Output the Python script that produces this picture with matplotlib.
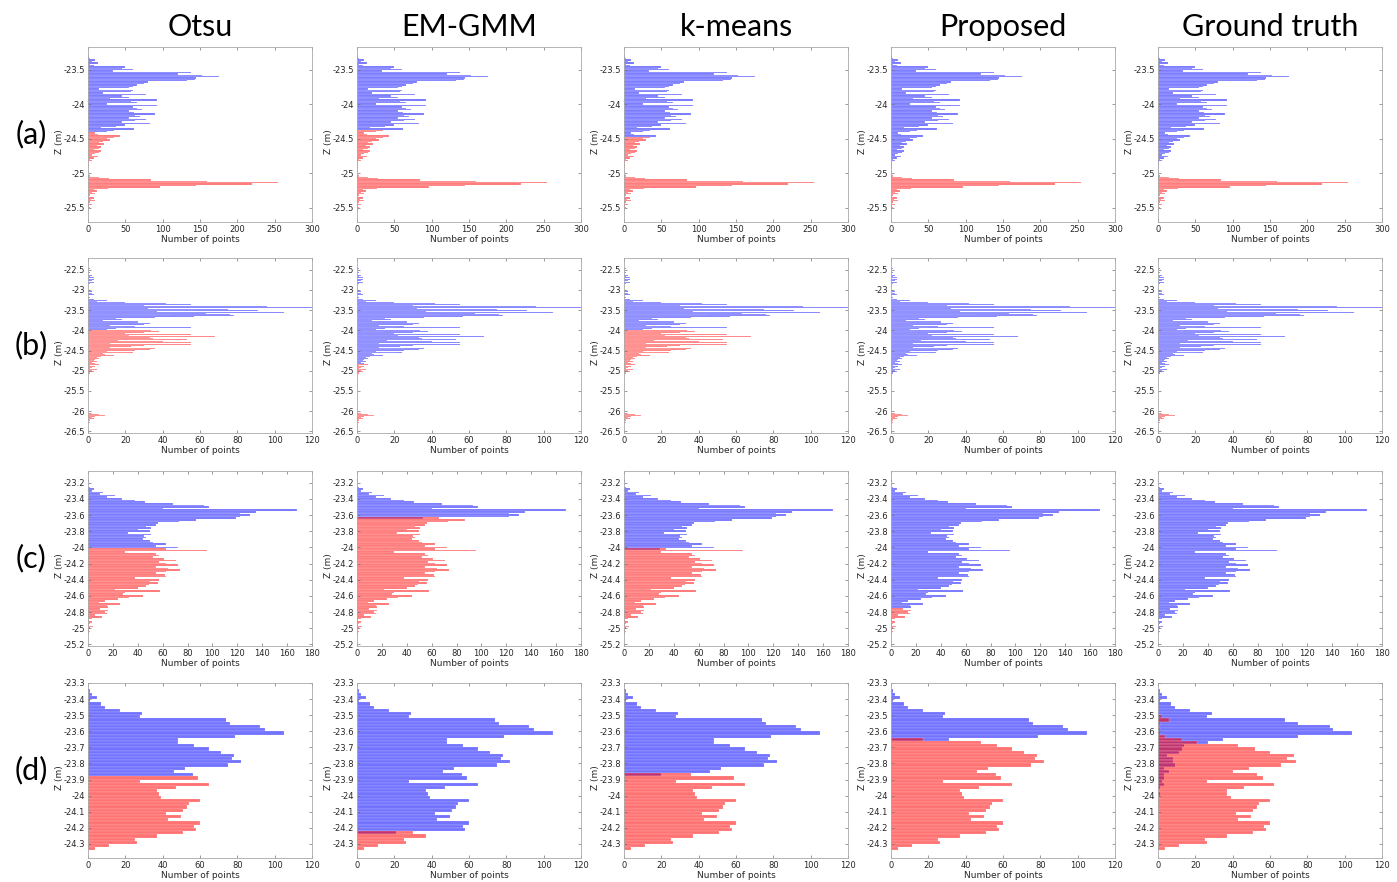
import numpy as np
import matplotlib.pyplot as plt
from matplotlib.ticker import FuncFormatter

# ── Datos ───────────────────────────────────────────────────────────────────
methods = ["Otsu", "EM-GMM", "k-means", "Proposed", "Ground truth"]
row_tags = ["(a)", "(b)", "(c)", "(d)"]
bin_w = 0.02

# fila (a): conteos por bin, desde z = a_top hacia abajo
a_top = -23.30
a_counts = [1, 2, 3, 10, 5, 14, 3, 8, 50, 45,
            60, 33, 138, 120, 153, 175, 145, 143, 132, 80,
            75, 65, 60, 55, 15, 60, 58, 20, 78, 46,
            55, 30, 92, 57, 65, 25, 93, 60, 65, 72,
            55, 62, 90, 63, 70, 55, 78, 63, 45, 83,
            50, 38, 18, 62, 35, 25, 10, 13, 43, 35,
            25, 30, 20, 15, 22, 12, 17, 15, 8, 18,
            15, 10, 5, 13, 8, 3, 5, 2, 0, 1,
            0, 2, 0, 0, 1, 0, 1, 3, 15, 28,
            85, 160, 255, 220, 145, 97, 27, 8, 12, 5,
            10, 3, 2, 8, 4, 9, 3, 1, 6, 2,
            3, 1, 1]
a_cuts = [-24.41, -24.37, -24.47, -25.03, -25.03]
a_mixed = [0, 0, 0, 0, 0]
a_xticks = [0, 50, 100, 150, 200, 250, 300]
a_yticks = [-25.5, -25, -24.5, -24, -23.5]
a_ylim = (-25.71, -23.17)

# fila (b)
b_top = -22.46
b_sparse = [1, 0, 0, 0, 0, 1, 0, 0, 0, 2,
            1, 5, 3, 0, 3, 2, 0, 0, 3, 1,
            0, 2, 0, 0, 0, 0, 0, 5, 1, 2,
            0, 2, 0, 3, 0, 0, 1, 0, 0]
b_upper = [3, 10, 5, 12, 20, 42, 55, 30, 85, 96,
           120, 32, 75, 91, 59, 37, 105, 63, 76, 45,
           78, 57, 36, 15, 20, 18, 8, 27, 27, 10,
           33, 30, 12, 25, 55, 20, 15, 10]
b_lower = [34, 38, 14, 30, 20, 55, 22, 37, 68, 33,
           35, 53, 38, 16, 40, 55, 12, 33, 55, 30,
           23, 12, 36, 26, 33, 25, 10, 24, 21, 8,
           9, 14, 7, 8, 5, 6, 4, 3, 7, 5,
           2, 4, 6, 1, 3, 4, 2, 1, 5, 4,
           2, 3, 1, 1]
b_gap = [0] * 49
b_bottom = [2, 6, 9, 10, 4, 2, 3, 1, 2, 1, 0, 1]
b_counts = b_sparse + b_upper + b_lower + b_gap + b_bottom
b_cuts = [-23.99, -24.83, -23.99, -25.50, -25.50]
b_mixed = [0, 0, 0, 0, 0]
b_xticks = [0, 20, 40, 60, 80, 100, 120]
b_yticks = [-26.5, -26, -25.5, -25, -24.5, -24, -23.5, -23, -22.5]
b_ylim = (-26.54, -22.21)

# fila (c)
c_top = -23.16
c_counts = [1, 1, 0, 1, 0, 2, 5, 3, 12, 10,
            22, 15, 27, 38, 46, 68, 93, 97, 60, 168,
            135, 122, 130, 122, 119, 87, 73, 56, 55, 47,
            51, 40, 50, 32, 51, 45, 47, 44, 50, 52,
            63, 55, 72, 63, 96, 30, 55, 57, 52, 61,
            71, 57, 63, 72, 55, 64, 74, 63, 55, 62,
            63, 38, 57, 50, 56, 49, 47, 40, 22, 58,
            30, 28, 44, 33, 24, 14, 9, 26, 15, 16,
            10, 16, 14, 15, 6, 11, 3, 1, 3, 2,
            1, 4, 2, 1, 2, 1]
c_cuts = [-24.01, -23.63, -24.01, -24.75, -25.30]
c_mixed = [0, 53, 29, 0, 0]
c_xticks = [0, 20, 40, 60, 80, 100, 120, 140, 160, 180]
c_yticks = [-25.2, -25, -24.8, -24.6, -24.4, -24.2, -24, -23.8, -23.6, -23.4, -23.2]
c_ylim = (-25.22, -23.055)

# fila (d)
d_top = -23.35
d_counts = [1, 2, 5, 1, 7, 9, 17, 29, 28, 74,
            76, 92, 95, 105, 79, 48, 48, 57, 65, 71,
            78, 77, 82, 75, 52, 46, 56, 59, 28, 65,
            47, 37, 38, 39, 60, 54, 53, 51, 42, 50,
            43, 60, 57, 58, 51, 37, 25, 26, 11, 4]
d_cuts = [-23.88, -24.22, -23.86, -23.64, None]
d_mixed = [0, 21, 20, 31, 0]
# verdad de terreno: puntos de la clase roja en los primeros 33 bins
d_gt_red_upper = [0, 0, 0, 0, 0, 0, 0, 0, 2, 6,
                  1, 0, 1, 1, 4, 13, 21, 43, 52, 60,
                  73, 69, 74, 66, 49, 40, 53, 56, 26, 62,
                  46, 37, 37]
d_xticks = [0, 20, 40, 60, 80, 100, 120]
d_yticks = [-24.3, -24.2, -24.1, -24, -23.9, -23.8, -23.7, -23.6, -23.5, -23.4, -23.3]
d_ylim = (-24.387, -23.30)


# ── Utilidades ──────────────────────────────────────────────────────────────

def split_classes(top, counts, cut, mixed):
    """Separa los conteos en clase azul (arriba del corte) y roja (abajo)."""
    counts = np.asarray(counts, dtype=float)
    z = top - bin_w * np.arange(len(counts))
    red = np.where(z < cut, counts, 0.0)
    below = np.where(z < cut)[0]
    if mixed and len(below):
        red[below[0]] = counts[below[0]] - mixed
    blue = counts - red
    return z, blue, red


def draw_hist(ax, z, blue, red):
    for vals, col in ((blue, (0.0, 0.0, 1.0, 0.55)), (red, (1.0, 0.0, 0.0, 0.55))):
        m = vals > 0
        ax.barh(z[m], vals[m], height=bin_w, color=col,
                edgecolor=(1, 1, 1, 0.45), linewidth=0.25)


rows = [
    (a_top, a_counts, a_cuts, a_mixed, a_xticks, a_yticks, a_ylim),
    (b_top, b_counts, b_cuts, b_mixed, b_xticks, b_yticks, b_ylim),
    (c_top, c_counts, c_cuts, c_mixed, c_xticks, c_yticks, c_ylim),
    (d_top, d_counts, d_cuts, d_mixed, d_xticks, d_yticks, d_ylim),
]

W, H = 1397, 882
fig = plt.figure(figsize=(W / 100, H / 100), dpi=100)

lefts = [88, 357, 624, 891, 1158]
tops = [47, 258, 471, 683]
aw, ah = 224, 175
spine_col = "#a8a8a8"
fmt = FuncFormatter(lambda v, p: f"{v:g}")

for r, (top, counts, cuts, mixed, xt, yt, ylim) in enumerate(rows):
    for c in range(5):
        ax = fig.add_axes([lefts[c] / W, 1 - (tops[r] + ah) / H, aw / W, ah / H])
        if r == 3 and c == 4:
            cnt = np.asarray(counts, dtype=float)
            z = top - bin_w * np.arange(len(cnt))
            red = np.array(d_gt_red_upper + counts[len(d_gt_red_upper):], dtype=float)
            blue = cnt - red
        else:
            z, blue, red = split_classes(top, counts, cuts[c], mixed[c])
        draw_hist(ax, z, blue, red)

        ax.set_xlim(xt[0], xt[-1])
        ax.set_ylim(*ylim)
        ax.set_xticks(xt)
        ax.set_yticks(yt)
        ax.xaxis.set_major_formatter(fmt)
        ax.yaxis.set_major_formatter(fmt)
        ax.tick_params(direction="in", length=2, width=0.5, color="#707070",
                       labelsize=6, labelcolor="#262626", pad=2,
                       top=True, right=True)
        for s in ax.spines.values():
            s.set_color(spine_col)
            s.set_linewidth(0.6)
        ax.set_xlabel("Number of points", fontsize=6.5, color="#262626")
        ax.xaxis.set_label_coords(0.5, -0.075)
        ax.set_ylabel("Z (m)", fontsize=6.5, color="#262626")
        ax.yaxis.set_label_coords(-0.107, 0.46)

# títulos de columna y etiquetas de fila
for c, name in enumerate(methods):
    fig.text((lefts[c] + aw / 2) / W, 1 - 27 / H, name, ha="center", va="center",
             fontsize=22, family=["Lato", "DejaVu Sans"])
for r, tag in enumerate(row_tags):
    fig.text(31 / W, 1 - (tops[r] + ah / 2) / H, tag, ha="center", va="center",
             fontsize=22, family=["Lato", "DejaVu Sans"])

fig.savefig("out.png", dpi=100, facecolor="white")
